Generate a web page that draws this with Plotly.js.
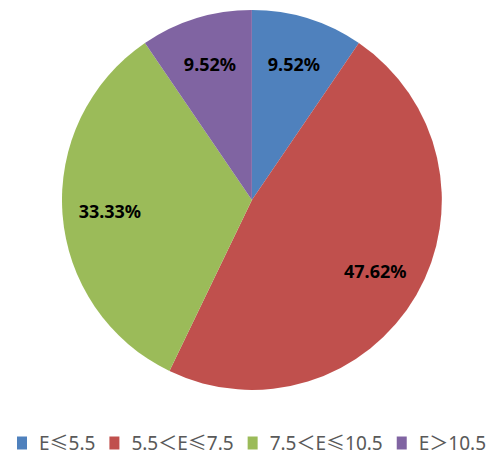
<!DOCTYPE html>
<html><head><meta charset="utf-8">
<script src="https://cdn.plot.ly/plotly-3.0.1.min.js"></script>
<style>html,body{margin:0;padding:0;background:#fff;}</style>
</head><body>
<div id="chart" style="width:492px;height:455px;"></div>
<script>
const categories = ["E≤5.5", "5.5＜E≤7.5", "7.5＜E≤10.5", "E＞10.5"];
const percentages = [9.52, 47.62, 33.33, 9.52];
const colors = ["#4F81BD", "#C0504D", "#9BBB59", "#8064A2"];

const FONT = "Noto Sans, Noto Sans CJK SC, sans-serif";
const LABEL_RADIUS_FRACTION = 0.75;

const trace = {
  type: "pie",
  labels: categories,
  values: percentages,
  sort: false,
  direction: "clockwise",
  rotation: 0,
  marker: {colors: colors, line: {color: "#ffffff", width: 0}},
  texttemplate: "%{value:.2f}%",
  textposition: "inside",
  insidetextorientation: "horizontal",
  textfont: {family: FONT, size: 18, color: "#000000", weight: "bold"},
  hoverinfo: "none",
  domain: {x: [0.126, 0.898], y: [0.143, 0.978]}
};

const layout = {
  width: 492, height: 455,
  margin: {l: 0, r: 0, t: 0, b: 0},
  paper_bgcolor: "#ffffff",
  showlegend: true,
  legend: {
    orientation: "h", x: 0, xanchor: "left", y: 0.02, yanchor: "bottom",
    font: {family: FONT, size: 19, color: "#595959"},
    bgcolor: "rgba(0,0,0,0)",
    traceorder: "normal", itemwidth: 30
  }
};

const gd = document.getElementById("chart");
Plotly.newPlot(gd, [trace], layout, {displayModeBar: false, staticPlot: true}).then(function () {
  // --- move the percentage labels radially, like the original's label placement ---
  try {
    const cd = gd.calcdata[0];
    const cd0 = cd[0];
    const svgRect = gd.querySelector(".main-svg").getBoundingClientRect();
    const fs = gd._fullLayout._size;
    const cx = (cd0.cx !== undefined ? cd0.cx : 0) + fs.l;
    const cy = (cd0.cy !== undefined ? cd0.cy : 0) + fs.t;
    const r = cd0.r;
    const total = percentages.reduce((a, b) => a + b, 0);
    let cum = 0;
    const slices = gd.querySelectorAll(".slice");
    slices.forEach((s, i) => {
      const t = s.querySelector(".slicetext text");
      const v = percentages[i];
      const ang = 2 * Math.PI * (cum + v / 2) / total;
      cum += v;
      if (!t) return;
      const tx = cx + Math.sin(ang) * r * LABEL_RADIUS_FRACTION;
      const ty = cy - Math.cos(ang) * r * LABEL_RADIUS_FRACTION;
      const b = t.getBoundingClientRect();
      const curX = b.left + b.width / 2 - svgRect.left;
      const curY = b.top + b.height / 2 - svgRect.top;
      const old = t.getAttribute("transform") || "";
      t.setAttribute("transform", "translate(" + (tx - curX) + "," + (ty - curY) + ") " + old);
    });
  } catch (e) { console.log(e); }

  // --- tighten legend spacing like the original ---
  const legend = gd.querySelector(".legend");
  if (!legend) return;
  const sb = legend.querySelector(".scrollbox");
  if (sb) sb.removeAttribute("clip-path");
  legend.removeAttribute("clip-path");
  legend.querySelectorAll(".groups").forEach(g => g.setAttribute("transform", ""));
  const items = Array.from(legend.querySelectorAll(".traces"));
  const SQ_LEFT = 15, TEXT_X = 37, ITEM_GAP = 14;
  let x = 0, lastEnd = 0;
  const starts = [];
  items.forEach(it => {
    const sym = it.querySelector(".legendpoints path");
    if (sym) sym.setAttribute("d", "M5,6.5H-5V-6.5H5Z");
    const txt = it.querySelector(".legendtext");
    txt.setAttribute("x", TEXT_X);
    const w = txt.getComputedTextLength();
    starts.push(x);
    lastEnd = x + TEXT_X + w;
    x = lastEnd + ITEM_GAP - SQ_LEFT;
  });
  const offset = 251.5 - (SQ_LEFT + lastEnd) / 2;
  items.forEach((it, i) => it.setAttribute("transform", "translate(" + (starts[i] + offset) + ",0)"));
  legend.setAttribute("transform", "translate(0,443)");
  const bg = legend.querySelector("rect.bg");
  if (bg) bg.setAttribute("width", 0);
});
</script>
</body></html>
